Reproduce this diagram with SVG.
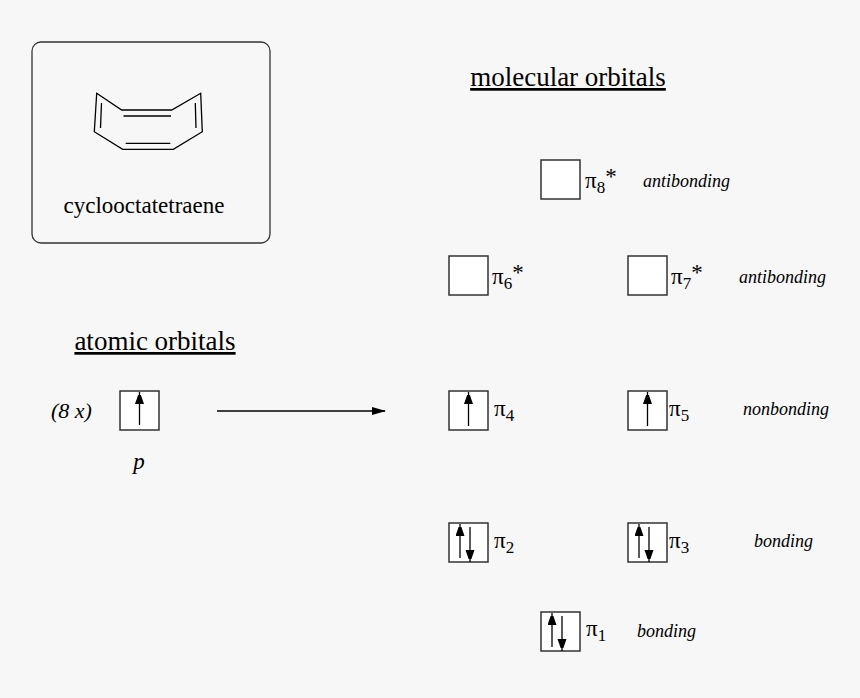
<svg xmlns="http://www.w3.org/2000/svg" width="860" height="698" viewBox="0 0 860 698">
<defs>
<marker id="ah" markerWidth="9" markerHeight="13" refX="12" refY="4.5" orient="auto" markerUnits="userSpaceOnUse"><path d="M0,0 L13,4.5 L0,9 z" fill="#000"/></marker>
<marker id="big" markerWidth="14" markerHeight="8" refX="13" refY="4" orient="auto" markerUnits="userSpaceOnUse"><path d="M0,0 L14,4 L0,8 z" fill="#000"/></marker>
</defs>
<style>
text{font-family:"Liberation Serif",serif;fill:#000}
.t{font-size:23px}
.i{font-size:18px;font-style:italic}
.h{font-size:27px;text-decoration:underline}
.sub{font-size:17px}
.b{fill:#fff;stroke:#333;stroke-width:1.5}
.e{stroke:#000;stroke-width:1.3;marker-end:url(#ah)}
.r{fill:none;stroke:#000;stroke-width:1.3}
</style>
<rect width="860" height="698" fill="#f7f7f7"/>
<g id="molecule">
<rect x="32" y="42" width="238" height="201" rx="9" fill="none" stroke="#333" stroke-width="1.3"/>
<polygon class="r" points="96.7,93.3 121.7,110 171.7,110 200.7,93.3 202.3,131.7 173.3,149.3 122.7,149.3 94.3,131.7"/>
<line class="r" x1="101.5" y1="103" x2="100.5" y2="128"/>
<line class="r" x1="123.5" y1="116" x2="171" y2="116"/>
<line class="r" x1="125.7" y1="143.3" x2="170.3" y2="143.3"/>
<line class="r" x1="195.3" y1="103" x2="196" y2="128"/>
<text class="t" x="144" y="213" text-anchor="middle">cyclooctatetraene</text>
</g>
<text class="h" x="568" y="86" text-anchor="middle">molecular orbitals</text>
<text class="h" x="155" y="350" text-anchor="middle">atomic orbitals</text>
<g id="atomic">
<text class="i" x="51" y="418" style="font-size:22px">(8 x)</text>
<rect class="b" x="120" y="391" width="39" height="39"/>
<line class="e" x1="139.5" y1="425" x2="139.5" y2="392"/>
<text class="i" x="139" y="469" text-anchor="middle" style="font-size:23px">p</text>
</g>
<g id="connectors"><line x1="217" y1="411" x2="385" y2="411" stroke="#000" stroke-width="1.3" marker-end="url(#big)"/></g>
<g id="pi8"><rect class="b" x="541" y="160" width="39" height="39"/><text class="t" x="585" y="188">π<tspan class="sub" dy="5">8</tspan><tspan dy="-9">*</tspan></text><text class="i" x="643" y="187">antibonding</text></g>
<g id="pi6"><rect class="b" x="449" y="256" width="39" height="39"/><text class="t" x="492" y="284">π<tspan class="sub" dy="5">6</tspan><tspan dy="-9">*</tspan></text></g>
<g id="pi7"><rect class="b" x="628" y="256" width="39" height="39"/><text class="t" x="671" y="284">π<tspan class="sub" dy="5">7</tspan><tspan dy="-9">*</tspan></text><text class="i" x="739" y="283">antibonding</text></g>
<g id="pi4"><rect class="b" x="449" y="391" width="39" height="39"/><line class="e" x1="468.5" y1="426" x2="468.5" y2="392"/><text class="t" x="494" y="416">π<tspan class="sub" dy="5">4</tspan></text></g>
<g id="pi5"><rect class="b" x="628" y="391" width="39" height="39"/><line class="e" x1="647.5" y1="426" x2="647.5" y2="392"/><text class="t" x="669" y="416">π<tspan class="sub" dy="5">5</tspan></text><text class="i" x="743" y="415">nonbonding</text></g>
<g id="pi2"><rect class="b" x="449" y="523" width="39" height="39"/><line class="e" x1="460" y1="558" x2="460" y2="524"/><line class="e" x1="470" y1="527" x2="470" y2="562"/><text class="t" x="494" y="548">π<tspan class="sub" dy="5">2</tspan></text></g>
<g id="pi3"><rect class="b" x="628" y="523" width="39" height="39"/><line class="e" x1="639" y1="558" x2="639" y2="524"/><line class="e" x1="649" y1="527" x2="649" y2="562"/><text class="t" x="669" y="548">π<tspan class="sub" dy="5">3</tspan></text><text class="i" x="754" y="547">bonding</text></g>
<g id="pi1"><rect class="b" x="541" y="612" width="39" height="39"/><line class="e" x1="552" y1="647" x2="552" y2="613"/><line class="e" x1="562" y1="616" x2="562" y2="651"/><text class="t" x="586" y="636">π<tspan class="sub" dy="5">1</tspan></text><text class="i" x="637" y="637">bonding</text></g>
</svg>
